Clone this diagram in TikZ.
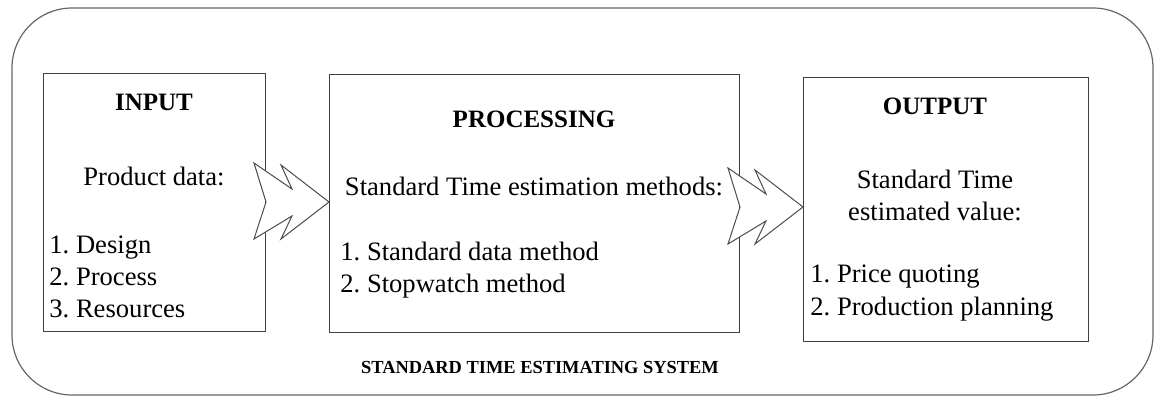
\documentclass[tikz,border=0pt]{standalone}
\usepackage{fontspec}
\setmainfont{Liberation Serif}
\frenchspacing
\tikzset{
  frame/.style={draw=black!60, line width=0.6pt, rounded corners=30pt},
  panel/.style={draw=black!75, line width=0.6pt, anchor=north west, inner sep=0pt},
  head/.style={font=\fontsize{12.5}{15}\selectfont\bfseries, anchor=base, inner sep=0pt},
  body/.style={font=\fontsize{13.3}{16}\selectfont, anchor=base, inner sep=0pt},
  item/.style={font=\fontsize{13.3}{16}\selectfont, anchor=base west, inner sep=0pt},
  caption/.style={font=\fontsize{9.2}{11}\selectfont\bfseries, anchor=base, inner sep=0pt},
  zig/.style={draw=black!70, line width=0.5pt, fill=white, line join=miter},
  zigarrow/.pic={
    \path[zig] (-75,-39) -- (-37,-13) -- (-48,-37) -- (0,0) -- (-48,37)
      -- (-37,14) -- (-75,37) -- (-63,0) -- cycle;
  }
}
\begin{document}
\begin{tikzpicture}[x=0.5pt,y=-0.5pt]
  \useasboundingbox (0,0) rectangle (1156,396);
  % enclosing system frame
  \draw[frame] (12,8) rectangle (1153,395);

  % the three stages
  \node[panel, minimum width=111pt, minimum height=129pt] (in) at (43,73) {};
  \node[panel, minimum width=205pt, minimum height=129pt] (proc) at (329,74) {};
  \node[panel, minimum width=142.5pt, minimum height=132pt] (out) at (803,77) {};

  % flow arrows, tips resting on the next stage
  \coordinate (tipA) at (proc.west |- 0,202);
  \coordinate (tipB) at (out.west |- 0,207);
  \pic at (tipA) {zigarrow};
  \pic at (tipB) {zigarrow};

  % input
  \node[head] (inhead) at (154,110) {INPUT};
  \node[body] (indata) at (154,185) {Product data:};
  \node[item] (in1) at (49,253) {1. Design};
  \node[item] (in2) at (49,285) {2. Process};
  \node[item] (in3) at (49,317) {3. Resources};

  % processing
  \node[head] (prochead) at (534,127) {PROCESSING};
  \node[body] (procdata) at (534,195) {Standard Time estimation methods:};
  \node[item] (proc1) at (340,260) {1. Standard data method};
  \node[item] (proc2) at (340,292) {2. Stopwatch method};

  % output
  \node[head] (outhead) at (935,114) {OUTPUT};
  \node[body] (outdata1) at (935,188) {Standard Time};
  \node[body] (outdata2) at (935,220) {estimated value:};
  \node[item] (out1) at (810,282) {1. Price quoting};
  \node[item] (out2) at (810,315) {2. Production planning};

  \node[caption] (sys) at (540,373) {STANDARD TIME ESTIMATING SYSTEM};
\end{tikzpicture}
\end{document}
